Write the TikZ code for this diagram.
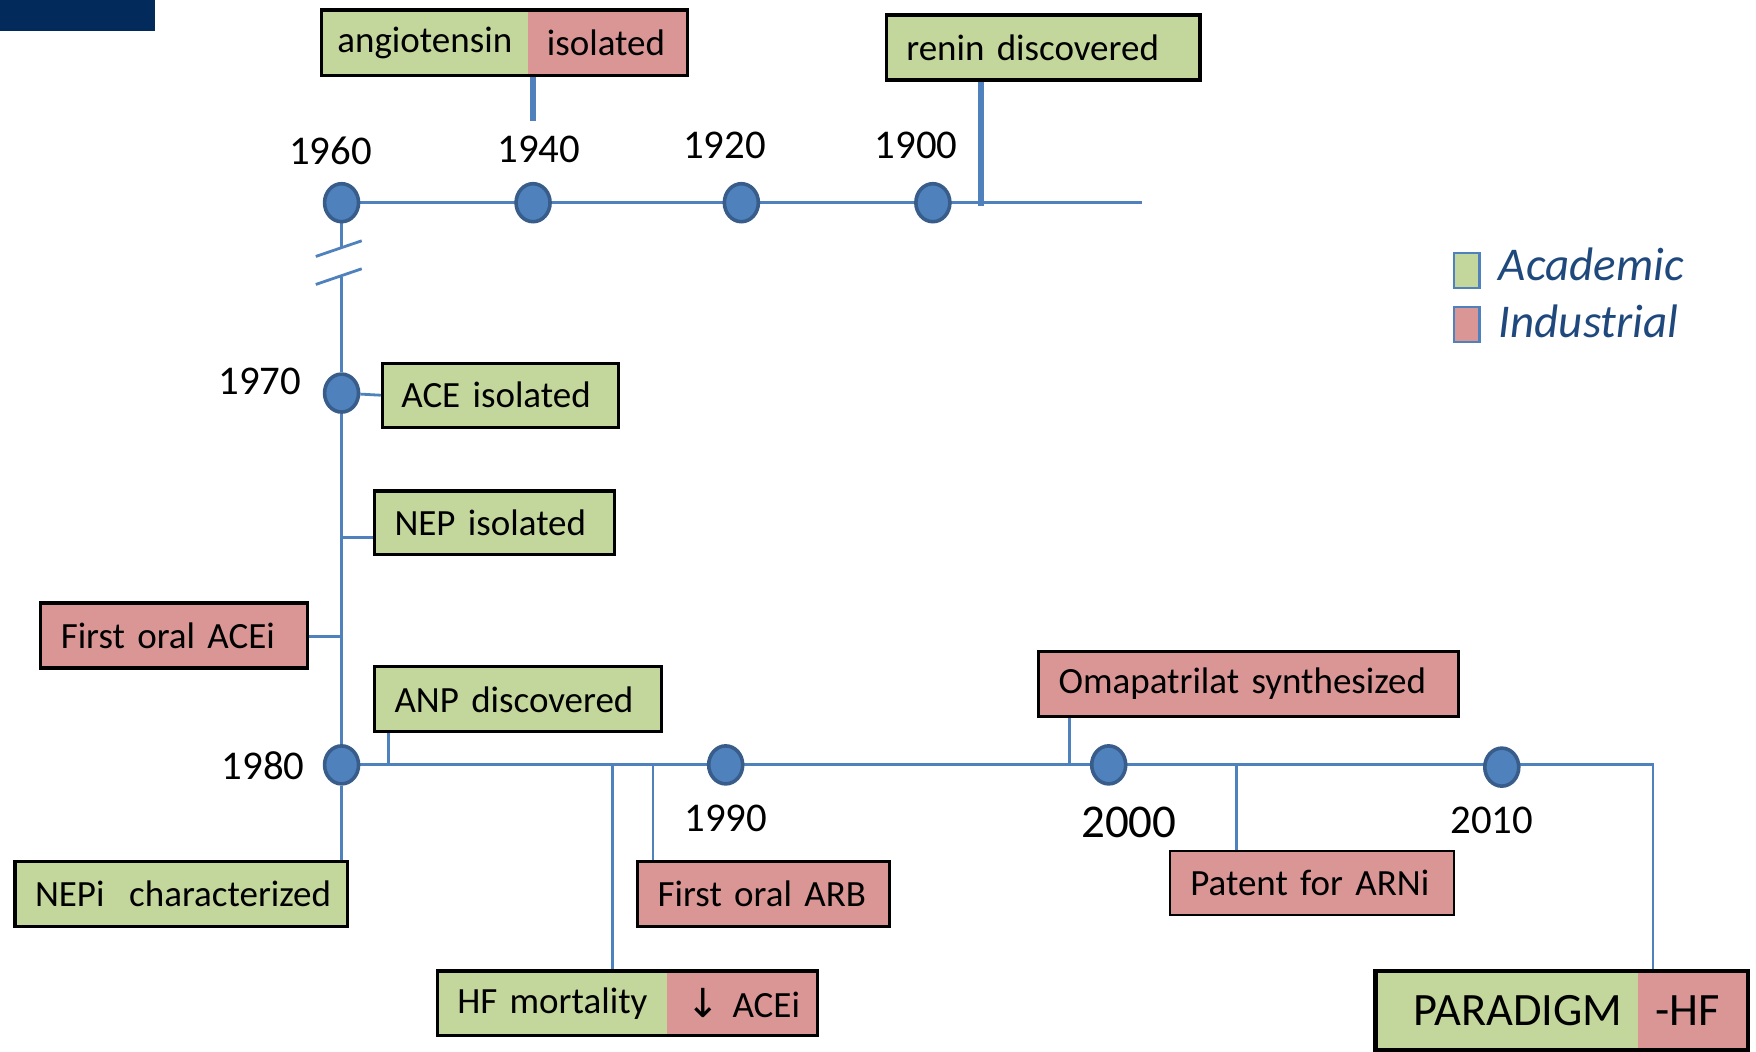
\documentclass[tikz,border=0pt]{standalone}
\usepackage{fontspec}
\setmainfont{Carlito}[WordSpace=0.75]
\newfontfamily\dvfont{DejaVu Sans}
\usetikzlibrary{shapes.geometric,backgrounds}
\definecolor{acad}{HTML}{C3D69B}
\definecolor{indu}{HTML}{D99694}
\definecolor{tl}{HTML}{4F81BD}
\definecolor{dotedge}{HTML}{385D8A}
\definecolor{navy}{HTML}{022B5B}
\definecolor{legtext}{HTML}{1F497D}
\tikzset{
  conn/.style={draw=tl, line width=1.4pt},
  thickconn/.style={draw=tl, line width=3pt},
  yeardot/.style={ellipse, fill=tl, draw=dotedge, line width=1.8pt, minimum width=17pt, minimum height=19pt, inner sep=0pt},
  yearlbl/.style={font=\fontsize{20.4}{22}\selectfont, inner sep=0pt},
  evbox/.style={anchor=north west, draw=black, line width=1.6pt, inner xsep=0pt, inner ysep=0pt, align=left, font=\fontsize{18.5}{20}\selectfont},
  halfbox/.style={anchor=north west, inner xsep=0pt, inner ysep=0pt, align=left, font=\fontsize{18.5}{20}\selectfont},
  legsq/.style={draw=tl, line width=1.1pt},
  legtxt/.style={anchor=west, inner sep=0pt, text=legtext, font=\fontsize{23.5}{25}\selectfont\itshape}
}
\begin{document}
\begin{tikzpicture}[x=0.56pt,y=-0.56pt]
\useasboundingbox (0,0) rectangle (1568,939);
% corner bar
\fill[navy] (0,0) rectangle (138,28);

% year dots
\node[yeardot] (d1960) at (305,181) {};
\node[yeardot] (d1940) at (476,181) {};
\node[yeardot] (d1920) at (662,181) {};
\node[yeardot] (d1900) at (833,181) {};
\node[yeardot] (d1970) at (305,351) {};
\node[yeardot] (d1980) at (305,683) {};
\node[yeardot] (d1990) at (648,683) {};
\node[yeardot] (d2000) at (990,683) {};
\node[yeardot] (d2010) at (1341,685) {};

% year labels
\node[yearlbl] (y1960) at (295,135) {1960};
\node[yearlbl] (y1940) at (481,133) {1940};
\node[yearlbl] (y1920) at (647,130) {1920};
\node[yearlbl] (y1900) at (818,130) {1900};
\node[yearlbl] (y1970) at (232,341) {1970};
\node[yearlbl] (y1980) at (235,684) {1980};
\node[yearlbl] (y1990) at (648,731) {1990};
\node[yearlbl, font=\fontsize{23.5}{25}\selectfont] (y2000) at (1008,734) {2000};
\node[yearlbl] (y2010) at (1332,733) {2010};

% single event boxes
\node[evbox, fill=acad, text width=156.8pt, minimum height=32.5pt] (renin) at (790,12) {\hspace*{10pt}renin discovered};
\node[evbox, fill=acad, text width=118.2pt, minimum height=31.9pt] (ace) at (340,323) {\hspace*{9.5pt}ACE isolated};
\node[evbox, fill=acad, text width=119.8pt, minimum height=31.9pt] (nep) at (333,437) {\hspace*{10pt}NEP isolated};
\node[evbox, fill=indu, text width=133.3pt, minimum height=32.5pt] (acei) at (35,537) {\hspace*{10pt}First oral ACEi};
\node[evbox, fill=acad, text width=143.4pt, minimum height=32.5pt] (anp) at (333,594) {\hspace*{10pt}ANP discovered};
\node[evbox, fill=acad, text width=166.3pt, minimum height=32.5pt] (nepi) at (12,768) {\hspace*{10pt}NEPi~ characterized};
\node[evbox, fill=indu, text width=126pt, minimum height=32.5pt] (arb) at (568,768) {\hspace*{10pt}First oral ARB};
\node[evbox, fill=indu, text width=210pt, minimum height=32.5pt] (oma) at (926,580) {\hspace*{10pt}Omapatrilat synthesized};
\node[evbox, fill=indu, text width=141.7pt, minimum height=31.9pt, line width=1.1pt] (patent) at (1044,759) {\hspace*{10pt}Patent for ARNi};

% split boxes
\node[halfbox, fill=acad, text width=103pt, minimum height=32.5pt] (angG) at (287,9) {\hspace*{7.8pt}angiotensin};
\node[halfbox, fill=indu, text width=79.5pt, minimum height=32.5pt] (angR) at (471,9) {\hspace*{9.5pt}isolated};
\draw[line width=1.6pt] (angG.north west) rectangle (angR.south east);

\node[halfbox, fill=acad, text width=114.2pt, minimum height=31.9pt] (hfG) at (391,867) {\hspace*{9.5pt}HF mortality};
\node[halfbox, fill=indu, text width=75pt, minimum height=31.9pt] (hfR) at (595,867) {\hspace*{10pt}{\dvfont\fontsize{20}{20}\selectfont ↓} ACEi};
\draw[line width=1.6pt] (hfG.north west) rectangle (hfR.south east);

\node[halfbox, fill=acad, text width=131pt, minimum height=39.2pt, font=\fontsize{23.2}{25}\selectfont] (parG) at (1228,867) {\hspace*{19pt}PARADIGM};
\node[halfbox, fill=indu, text width=54.9pt, minimum height=39.2pt, font=\fontsize{23.2}{25}\selectfont] (parR) at (1462,867) {\hspace*{9pt}-HF};
\draw[line width=2.3pt] (parG.north west) rectangle (parR.south east);

% legend
\node[legsq, fill=acad, minimum width=12.9pt, minimum height=17.4pt, inner sep=0pt, anchor=north west] (legA) at (1297,225) {};
\node[legsq, fill=indu, minimum width=12.9pt, minimum height=17.4pt, inner sep=0pt, anchor=north west] (legI) at (1297,273) {};
\node[legtxt] (legAt) at (1338,236) {Academic};
\node[legtxt] (legIt) at (1338,287) {Industrial};

% coordinates for connector ends
\coordinate (topend) at (1020,181);
\coordinate (brkA) at (305,221);
\coordinate (brkB) at (305,247);
\coordinate (angc) at (476,108);
\coordinate (reninc) at (876,184);
\coordinate (nepc) at (305,480);
\coordinate (aceic) at (305,568);
\coordinate (anpc) at (347,681);
\coordinate (hfc) at (547,683);
\coordinate (arbc) at (583,683);
\coordinate (omac) at (955,681);
\coordinate (patc) at (1104,683);
\coordinate (corner) at (1476,683);

\begin{pgfonlayer}{background}
% top timeline
\draw[conn] (d1960) -- (topend);
% break in vertical
\draw[conn] (d1960) -- (brkA);
\draw[conn] (282,229) -- (323,215);
\draw[conn] (282,254) -- (323,240);
\draw[conn] (brkB) -- (d1970) -- (d1980) -- (d1980 |- nepi.north);
% bottom timeline
\draw[conn] (d1980) -- (corner) -- (corner |- parR.north);
% event connectors
\draw[thickconn] (angc |- angR.south) -- (angc);
\draw[thickconn] (reninc |- renin.south) -- (reninc);
\draw[conn] (d1970) -- (ace.west);
\draw[conn] (nepc) -- (nepc -| nep.west);
\draw[conn] (aceic) -- (aceic -| acei.east);
\draw[conn] (anpc |- anp.south) -- (anpc);
\draw[conn] (hfc) -- (hfc |- hfG.north);
\draw[conn] (arbc) -- (arbc |- arb.north);
\draw[conn] (omac |- oma.south) -- (omac);
\draw[conn] (patc) -- (patc |- patent.north);
\end{pgfonlayer}
\end{tikzpicture}
\end{document}
